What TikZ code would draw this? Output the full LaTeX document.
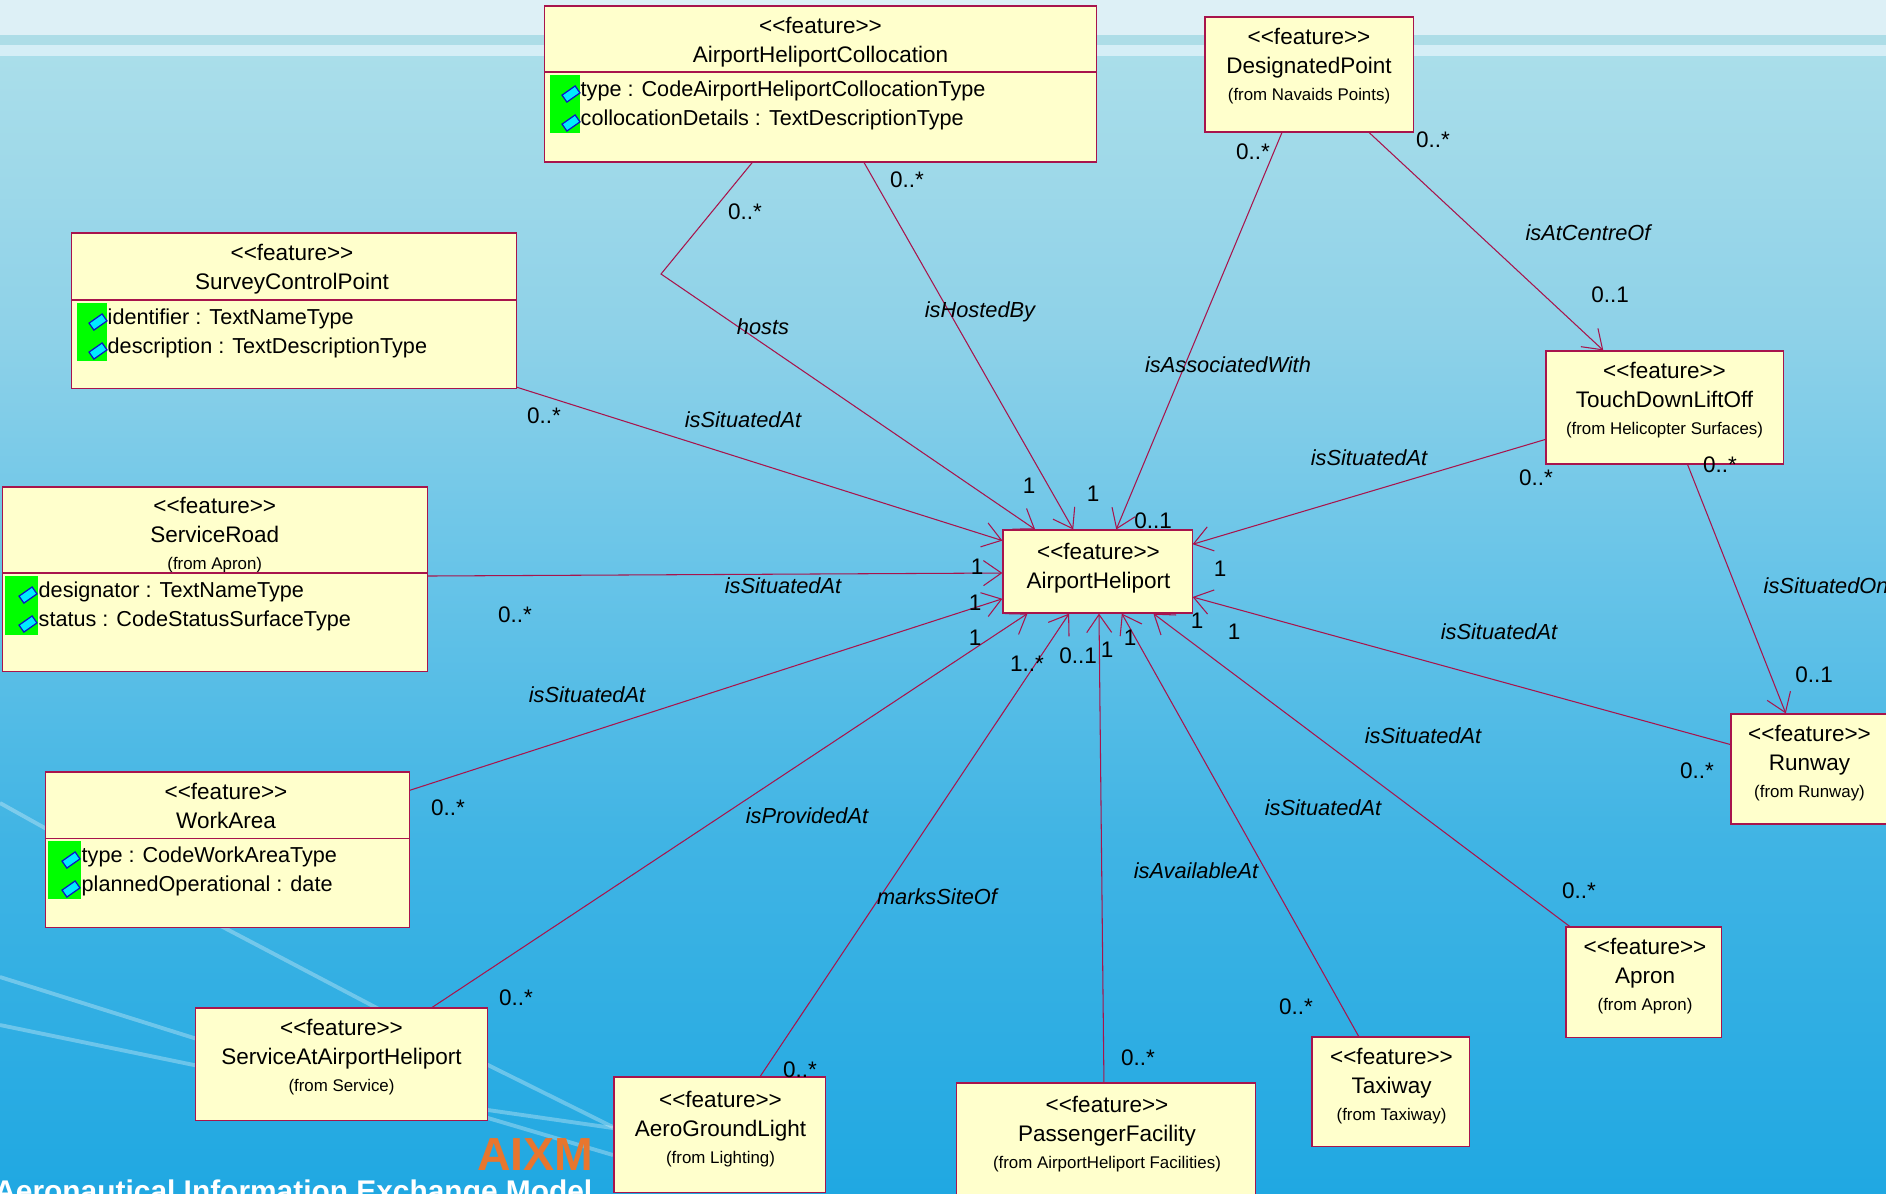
\documentclass[tikz,border=0pt]{standalone}
\usepackage{fontspec}
\setmainfont{Liberation Sans}
\usetikzlibrary{arrows.meta}

\definecolor{umlline}{RGB}{168,20,76}
\definecolor{umlfill}{RGB}{255,255,204}
\definecolor{iconfill}{RGB}{0,235,255}
\definecolor{iconline}{RGB}{10,20,200}
\definecolor{bandpale}{RGB}{221,240,246}
\definecolor{bandmid}{RGB}{173,221,231}
\definecolor{bandlight}{RGB}{213,238,246}
\definecolor{logoorange}{RGB}{232,118,46}
\definecolor{bgzero}{RGB}{170,222,234}
\definecolor{bgone}{RGB}{141,209,232}
\definecolor{bgtwo}{RGB}{104,196,232}
\definecolor{bgthree}{RGB}{64,180,228}
\definecolor{bgfour}{RGB}{32,168,226}
\pgfdeclareverticalshading{slidebg}{100bp}{color(0bp)=(bgfour); color(25bp)=(bgfour); color(40.5bp)=(bgthree); color(52.4bp)=(bgtwo); color(62.5bp)=(bgone); color(75bp)=(bgzero); color(100bp)=(bgzero)}

\newcommand{\feat}{<{}<feature>{}>}
\newcommand{\fromtext}[1]{{\fontsize{4.8}{6}\selectfont #1}}

\tikzset{
	classbox/.style={draw=umlline, fill=umlfill, line width=0.32pt, inner sep=0pt},
	classtext/.style={anchor=north, align=center, inner sep=0pt, font=\fontsize{6.4}{8.25}\selectfont},
	attrtext/.style={anchor=north west, align=left, inner sep=0pt, font=\fontsize{6.15}{8.25}\selectfont},
	attricon/.style={rectangle, rotate=35, draw=iconline, fill=iconfill, line width=0.35pt, minimum width=0.16cm, minimum height=0.085cm, inner sep=0pt},
	assoc/.style={draw=umlline, line width=0.3pt},
	assocto/.style={assoc, -{Straight Barb[length=0.18cm, width=0.25cm]}},
	multlabel/.style={inner sep=0pt, font=\fontsize{6.4}{7}\selectfont},
	rolelabel/.style={inner sep=0pt, font=\fontsize{6.2}{7}\itshape\selectfont},
	streak/.style={draw=white, opacity=0.3, line width=1.1pt}
}

\begin{document}
\begin{tikzpicture}[x=0.01cm, y=-0.01cm]
	\useasboundingbox (0,0) rectangle (1886,1193);
	\clip (0,0) rectangle (1886,1193);

	% slide background
	\shade[shading=slidebg] (0,56) rectangle (1886,1193);
	\fill[bandpale] (0,0) rectangle (1886,35);
	\fill[bandmid] (0,35) rectangle (1886,45);
	\fill[bandlight] (0,45) rectangle (1886,56);
	\draw[streak] (0,803) -- (219,925) -- (375,1007) -- (488,1065) -- (613,1127);
	\draw[streak] (0,977) -- (194,1038) -- (488,1110) -- (613,1128);
	\draw[streak] (0,1025) -- (194,1065) -- (488,1118) -- (613,1155);
	\node[inner sep=0pt, anchor=east, text=logoorange, font=\fontsize{13.2}{14}\bfseries\selectfont] (LogoName) at (594,1154) {AIXM};
	\node[inner sep=0pt, anchor=base east, text=white, font=\fontsize{8.5}{9}\bfseries\selectfont] (LogoLine) at (593,1201) {Aeronautical Information Exchange Model};

	% classes
	\node[classbox, minimum width=5.51cm, minimum height=1.56cm] (Collocation) at (820.5,84) {};
	\node[classbox, minimum width=2.08cm, minimum height=1.15cm] (DesignatedPoint) at (1309,74.5) {};
	\node[classbox, minimum width=4.44cm, minimum height=1.55cm] (SurveyControlPoint) at (294,310.5) {};
	\node[classbox, minimum width=4.245cm, minimum height=1.84cm] (ServiceRoad) at (214.75,579) {};
	\node[classbox, minimum width=3.63cm, minimum height=1.55cm] (WorkArea) at (227.5,849.5) {};
	\node[classbox, minimum width=2.91cm, minimum height=1.12cm] (ServiceAt) at (341.5,1064) {};
	\node[classbox, minimum width=2.11cm, minimum height=1.15cm] (AeroGroundLight) at (719.5,1134.5) {};
	\node[classbox, minimum width=2.98cm, minimum height=1.17cm] (PassengerFacility) at (1106,1141.5) {};
	\node[classbox, minimum width=1.57cm, minimum height=1.09cm] (Taxiway) at (1390.5,1091.5) {};
	\node[classbox, minimum width=1.55cm, minimum height=1.10cm] (Apron) at (1643.5,982) {};
	\node[classbox, minimum width=1.59cm, minimum height=1.10cm] (Runway) at (1810.5,769) {};
	\node[classbox, minimum width=2.37cm, minimum height=1.13cm] (TouchDown) at (1664.5,407.5) {};
	\node[classbox, minimum width=1.89cm, minimum height=0.83cm] (AirportHeliport) at (1097.5,571.5) {};

	\node[classtext] (CollocationText) at (820.5,16) {\feat\\AirportHeliportCollocation};
	\node[classtext] (DesignatedText) at (1309,27) {\feat\\DesignatedPoint\\[-0.55pt]\fromtext{(from Navaids Points)}};
	\node[classtext] (SurveyText) at (292,243) {\feat\\SurveyControlPoint};
	\node[classtext] (ServiceRoadText) at (214.75,496) {\feat\\ServiceRoad\\[-0.55pt]\fromtext{(from Apron)}};
	\node[classtext] (WorkAreaText) at (226,782) {\feat\\WorkArea};
	\node[classtext] (ServiceAtText) at (341.5,1018) {\feat\\ServiceAtAirportHeliport\\[-0.55pt]\fromtext{(from Service)}};
	\node[classtext] (AeroText) at (720.5,1090) {\feat\\AeroGroundLight\\[-0.55pt]\fromtext{(from Lighting)}};
	\node[classtext] (PassengerText) at (1107,1095) {\feat\\PassengerFacility\\[-0.55pt]\fromtext{(from AirportHeliport Facilities)}};
	\node[classtext] (TaxiwayText) at (1391.5,1047) {\feat\\Taxiway\\[-0.55pt]\fromtext{(from Taxiway)}};
	\node[classtext] (ApronText) at (1645,937) {\feat\\Apron\\[-0.55pt]\fromtext{(from Apron)}};
	\node[classtext] (RunwayText) at (1809.5,724) {\feat\\Runway\\[-0.55pt]\fromtext{(from Runway)}};
	\node[classtext] (TouchDownText) at (1664.5,361) {\feat\\TouchDownLiftOff\\[-0.55pt]\fromtext{(from Helicopter Surfaces)}};
	\node[classtext] (AirportText) at (1098.5,542.5) {\feat\\AirportHeliport};

	% attribute compartments
	\draw[assoc] (Collocation.west |- 0,72) -- (Collocation.east |- 0,72);
	\fill[green] (550,75) rectangle (580,133);
	\node[attricon] (CollocationIconA) at (571,94) {};
	\node[attricon] (CollocationIconB) at (571,123) {};
	\node[attrtext] (CollocationAttrs) at (580,80) {type : CodeAirportHeliportCollocationType\\collocationDetails : TextDescriptionType};

	\draw[assoc] (SurveyControlPoint.west |- 0,300) -- (SurveyControlPoint.east |- 0,300);
	\fill[green] (77,303) rectangle (107,361);
	\node[attricon] (SurveyIconA) at (98,322) {};
	\node[attricon] (SurveyIconB) at (98,351) {};
	\node[attrtext] (SurveyAttrs) at (107,308) {identifier : TextNameType\\description : TextDescriptionType};

	\draw[assoc] (ServiceRoad.west |- 0,573) -- (ServiceRoad.east |- 0,573);
	\fill[green] (5,576) rectangle (38,635);
	\node[attricon] (ServiceRoadIconA) at (28,595) {};
	\node[attricon] (ServiceRoadIconB) at (28,624) {};
	\node[attrtext] (ServiceRoadAttrs) at (38,581) {designator : TextNameType\\status : CodeStatusSurfaceType};

	\draw[assoc] (WorkArea.west |- 0,838) -- (WorkArea.east |- 0,838);
	\fill[green] (48,841) rectangle (81,899);
	\node[attricon] (WorkAreaIconA) at (71,860) {};
	\node[attricon] (WorkAreaIconB) at (71,889) {};
	\node[attrtext] (WorkAreaAttrs) at (81,846) {type : CodeWorkAreaType\\plannedOperational : date};

	% associations
	\coordinate (HostsBend) at (661,274);
	\draw[assocto] (Collocation.229.1) -- (HostsBend) -- (AirportHeliport.146.4);
	\draw[assocto] (Collocation.299.7) -- (AirportHeliport.120.6);
	\draw[assocto] (DesignatedPoint.245.7) -- (AirportHeliport.66);
	\draw[assocto] (DesignatedPoint.316.7) -- (TouchDown.137);
	\draw[assocto] (SurveyControlPoint.341.5) -- (AirportHeliport.162.1);
	\draw[assocto] (ServiceRoad.east |- 0,576) -- (AirportHeliport.west |- 0,573);
	\draw[assocto] (WorkArea.18.7) -- (AirportHeliport.196.8);
	\draw[assocto] (ServiceAt.32.3) -- (AirportHeliport.211.2);
	\draw[assocto] (AeroGroundLight.55.5) -- (AirportHeliport.236.5);
	\draw[assocto] (PassengerFacility.92) -- (AirportHeliport.272.1);
	\draw[assocto] (Taxiway.120.8) -- (AirportHeliport.300.6);
	\draw[assocto] (Apron.143.9) -- (AirportHeliport.323.7);
	\draw[assocto] (Runway.163.9) -- (AirportHeliport.345.5);
	\draw[assocto] (TouchDown.195.8) -- (AirportHeliport.16.2);
	\draw[assocto] (TouchDown.292.6) -- (Runway.114.9);

	% role names
	\node[rolelabel] (HostsRole) at (763,327) {hosts};
	\node[rolelabel] (HostedRole) at (980,312) {isHostedBy};
	\node[rolelabel] (AssociatedRole) at (1228,365) {isAssociatedWith};
	\node[rolelabel] (CentreRole) at (1588,233) {isAtCentreOf};
	\node[rolelabel] (SurveyRole) at (743,420) {isSituatedAt};
	\node[rolelabel] (TouchDownRole) at (1369,458) {isSituatedAt};
	\node[rolelabel] (ServiceRoadRole) at (783,586) {isSituatedAt};
	\node[rolelabel, anchor=west] (RunwayOnRole) at (1763,586) {isSituatedOn};
	\node[rolelabel] (RunwayRole) at (1499,632) {isSituatedAt};
	\node[rolelabel] (WorkAreaRole) at (587,695) {isSituatedAt};
	\node[rolelabel] (ApronRole) at (1423,736) {isSituatedAt};
	\node[rolelabel] (ServiceAtRole) at (807,816) {isProvidedAt};
	\node[rolelabel] (TaxiwayRole) at (1323,808) {isSituatedAt};
	\node[rolelabel] (AeroRole) at (937,897) {marksSiteOf};
	\node[rolelabel] (PassengerRole) at (1196,871) {isAvailableAt};

	% multiplicities
	\node[multlabel] (HostsFrom) at (745,212) {0..*};
	\node[multlabel] (HostedFrom) at (907,180) {0..*};
	\node[multlabel] (AssociatedFrom) at (1253,152) {0..*};
	\node[multlabel] (CentreFrom) at (1433,140) {0..*};
	\node[multlabel] (CentreTo) at (1610,295) {0..1};
	\node[multlabel] (SurveyFrom) at (544,416) {0..*};
	\node[multlabel] (TouchDownFrom) at (1536,478) {0..*};
	\node[multlabel] (RunwayOnFrom) at (1720,465) {0..*};
	\node[multlabel] (ServiceRoadFrom) at (515,615) {0..*};
	\node[multlabel] (RunwayOnTo) at (1814,675) {0..1};
	\node[multlabel] (RunwayFrom) at (1697,771) {0..*};
	\node[multlabel] (ApronFrom) at (1579,891) {0..*};
	\node[multlabel] (TaxiwayFrom) at (1296,1007) {0..*};
	\node[multlabel] (PassengerFrom) at (1138,1058) {0..*};
	\node[multlabel] (AeroFrom) at (800,1070) {0..*};
	\node[multlabel] (ServiceAtFrom) at (516,998) {0..*};
	\node[multlabel] (WorkAreaFrom) at (448,808) {0..*};
	\node[multlabel] (HostsTo) at (1029,486) {1};
	\node[multlabel] (HostedTo) at (1093,494) {1};
	\node[multlabel] (AssociatedTo) at (1153,521) {0..1};
	\node[multlabel] (TouchDownTo) at (1220,569) {1};
	\node[multlabel] (ServiceRoadTo) at (977,567) {1};
	\node[multlabel] (SurveyTo) at (975,603) {1};
	\node[multlabel] (WorkAreaTo) at (975,638) {1};
	\node[multlabel] (ServiceAtTo) at (1027,664) {1..*};
	\node[multlabel] (AeroTo) at (1078,656) {0..1};
	\node[multlabel] (PassengerTo) at (1107,650) {1};
	\node[multlabel] (TaxiwayTo) at (1130,638) {1};
	\node[multlabel] (ApronTo) at (1197,621) {1};
	\node[multlabel] (RunwayTo) at (1234,632) {1};
\end{tikzpicture}
\end{document}
